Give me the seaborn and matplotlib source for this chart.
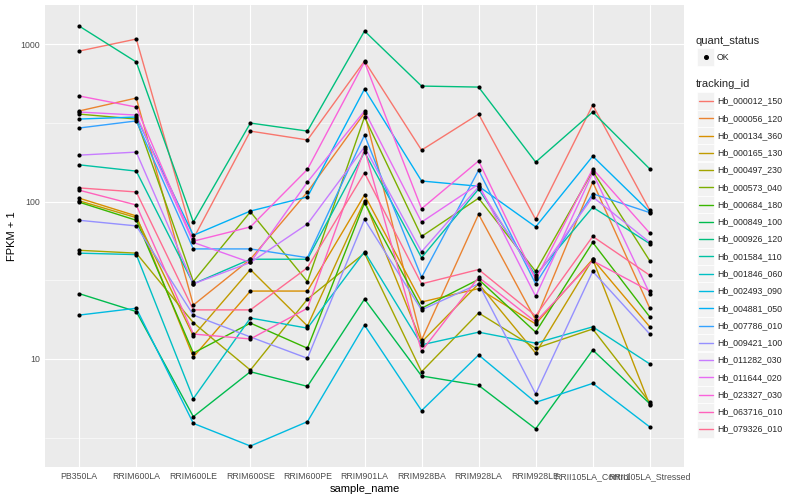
import numpy as np
import pandas as pd
import matplotlib
matplotlib.use("Agg")
import matplotlib.pyplot as plt
from matplotlib.lines import Line2D
from matplotlib.patches import Rectangle
import seaborn as sns

# ---------------- data ----------------
samples = ["PB350LA", "RRIM600LA", "RRIM600LE", "RRIM600SE", "RRIM600PE",
           "RRIM901LA", "RRIM928BA", "RRIM928LA", "RRIM928LE",
           "RRII105LA_Control", "RRII105LA_Stressed"]

tracking_ids = ["Hb_000012_150", "Hb_000056_120", "Hb_000134_360", "Hb_000165_130",
                "Hb_000497_230", "Hb_000573_040", "Hb_000684_180", "Hb_000849_100",
                "Hb_000926_120", "Hb_001584_110", "Hb_001846_060", "Hb_002493_090",
                "Hb_004881_050", "Hb_007786_010", "Hb_009421_100", "Hb_011282_030",
                "Hb_011644_020", "Hb_023327_030", "Hb_063716_010", "Hb_079326_010"]

# FPKM + 1 values, one list per gene, in sample order
Hb_000012_150 = [903, 1076, 58, 280, 246, 780, 212, 359, 77, 410, 88]
Hb_000056_120 = [376, 454, 22, 43, 115, 365, 13.2, 83, 17.7, 133, 21]
Hb_000134_360 = [105, 81, 10.3, 27, 27, 110, 23, 28, 16.7, 43, 16]
Hb_000165_130 = [101, 79, 14, 37, 16.2, 101, 12.8, 30, 10.9, 43, 5.1]
Hb_000497_230 = [49, 47, 17, 8.5, 24, 47, 8.3, 19.6, 11.7, 15.5, 5.3]
Hb_000573_040 = [359, 334, 31, 86, 31, 344, 60, 105, 36, 156, 42]
Hb_000684_180 = [99, 76, 10.9, 16.9, 11.7, 98, 21, 32, 14.8, 55, 18.5]
Hb_000849_100 = [26, 20, 4.3, 8.3, 6.7, 24, 7.8, 6.8, 3.6, 11.4, 5.2]
Hb_000926_120 = [1300, 769, 74, 315, 280, 1210, 541, 533, 178, 370, 161]
Hb_001584_110 = [171, 156, 30, 43, 43, 206, 44, 120, 34, 92, 54]
Hb_001846_060 = [47, 46, 5.6, 18.2, 15.7, 48, 12.3, 14.8, 12.6, 16, 9.3]
Hb_002493_090 = [19, 21, 3.9, 2.8, 4.0, 16.4, 4.7, 10.6, 5.3, 7.0, 3.7]
Hb_004881_050 = [334, 344, 61, 87, 107, 518, 135, 125, 69, 194, 86]
Hb_007786_010 = [293, 325, 50, 50, 44, 264, 33, 158, 30, 112, 85]
Hb_009421_100 = [76, 70, 19, 13.8, 10.1, 77, 20.5, 30, 6.0, 36, 14.4]
Hb_011282_030 = [197, 206, 30, 41, 72, 222, 48, 124, 33, 107, 55]
Hb_011644_020 = [370, 354, 55, 41, 133, 376, 74, 129, 25, 152, 26]
Hb_023327_030 = [468, 398, 56, 69, 160, 769, 90, 181, 32, 161, 63]
Hb_063716_010 = [118, 95, 14.4, 13.4, 21, 215, 11.2, 33, 17.2, 42, 27]
Hb_079326_010 = [122, 115, 20.5, 20.5, 38, 152, 30, 37, 18.8, 60, 34]

series = [Hb_000012_150, Hb_000056_120, Hb_000134_360, Hb_000165_130,
          Hb_000497_230, Hb_000573_040, Hb_000684_180, Hb_000849_100,
          Hb_000926_120, Hb_001584_110, Hb_001846_060, Hb_002493_090,
          Hb_004881_050, Hb_007786_010, Hb_009421_100, Hb_011282_030,
          Hb_011644_020, Hb_023327_030, Hb_063716_010, Hb_079326_010]

quant_status = ["OK"]

# ggplot2 default hue palette for 20 levels
colors = ["#F8766D", "#EA8331", "#D89000", "#C09B00", "#A3A500", "#7CAE00",
          "#39B600", "#00BB4E", "#00BF7D", "#00C1A3", "#00BFC4", "#00BAE0",
          "#00B0F6", "#35A2FF", "#9590FF", "#C77CFF", "#E76BF3", "#FA62DB",
          "#FF62BC", "#FF6C91"]

rows = []
for tid, vals in zip(tracking_ids, series):
    for i, (s, v) in enumerate(zip(samples, vals)):
        rows.append({"tracking_id": tid, "sample_name": s, "pos": i, "fpkm1": v,
                     "quant_status": "OK"})
df = pd.DataFrame(rows)

# ---------------- style ----------------
sns.set_style("darkgrid", {"axes.facecolor": "#EBEBEB", "grid.color": "white"})
plt.rcParams["font.family"] = ["Liberation Sans", "DejaVu Sans"]

W, H = 800, 500
fig = plt.figure(figsize=(8, 5), dpi=100)
fig.patch.set_facecolor("white")
L, R, T, B = 45, 684, 5, 467
ax = fig.add_axes([L / W, 1 - B / H, (R - L) / W, (B - T) / H])
ax.set_facecolor("#EBEBEB")

sns.lineplot(data=df, x="pos", y="fpkm1", hue="tracking_id", hue_order=tracking_ids,
             palette=colors, estimator=None, units="tracking_id", sort=False,
             legend=False, linewidth=1.0, ax=ax, zorder=2)
sns.scatterplot(data=df, x="pos", y="fpkm1", color="black", s=9, linewidth=0,
                legend=False, ax=ax, zorder=3)

ax.set_yscale("log")
ax.set_ylim(10 ** 0.314, 10 ** 3.248)
ax.set_xlim(-0.6, len(samples) - 0.4)
ax.set_yticks([10, 100, 1000])
ax.set_yticklabels(["10", "100", "1000"])
ax.set_yticks([10 ** 0.5, 10 ** 1.5, 10 ** 2.5], minor=True)
ax.yaxis.set_minor_formatter(matplotlib.ticker.NullFormatter())
ax.set_xticks(range(len(samples)))
ax.set_xticklabels(samples)

ax.grid(True, which="major", color="white", linewidth=0.8)
ax.grid(True, which="minor", axis="y", color="white", linewidth=0.4)
ax.set_axisbelow(True)
for sp in ax.spines.values():
    sp.set_visible(False)
ax.tick_params(axis="both", which="major", length=2.2, width=0.5, color="#333333",
               labelcolor="#4D4D4D", labelsize=6.3, pad=1.5)
ax.tick_params(axis="y", which="minor", length=0)

ax.set_xlabel("sample_name", fontsize=8, color="black", labelpad=2)
ax.set_ylabel("FPKM + 1", fontsize=8, color="black", labelpad=2)

# ---------------- legend (ggplot style, drawn in figure pixels) ----------------
def fx(px):
    return px / W

def fy(py):
    return 1 - py / H

key_w = 17
key_x0 = 697
text_x = 717

fig.text(fx(696), fy(41), "quant_status", fontsize=8, va="center", ha="left")
cy = 57
fig.add_artist(Rectangle((fx(key_x0), fy(cy + key_w / 2)), key_w / W, key_w / H,
                         transform=fig.transFigure, facecolor="#F2F2F2",
                         edgecolor="white", linewidth=0.5))
fig.add_artist(Line2D([fx(key_x0 + key_w / 2)], [fy(cy)], marker="o", markersize=2.6,
                      color="black", linestyle="none", transform=fig.transFigure))
fig.text(fx(text_x), fy(cy), quant_status[0], fontsize=6.3, va="center", ha="left")

fig.text(fx(696), fy(84), "tracking_id", fontsize=8, va="center", ha="left")
for i, (tid, c) in enumerate(zip(tracking_ids, colors)):
    cy = 101 + i * 17.27
    fig.add_artist(Rectangle((fx(key_x0), fy(cy + key_w / 2)), key_w / W, key_w / H,
                             transform=fig.transFigure, facecolor="#F2F2F2",
                             edgecolor="white", linewidth=0.5))
    fig.add_artist(Line2D([fx(key_x0 + 1.5), fx(key_x0 + key_w - 1.5)], [fy(cy), fy(cy)],
                          color=c, linewidth=1.0, transform=fig.transFigure))
    fig.text(fx(text_x), fy(cy), tid, fontsize=6.3, va="center", ha="left")

fig.savefig("out.png", dpi=100, facecolor="white")
